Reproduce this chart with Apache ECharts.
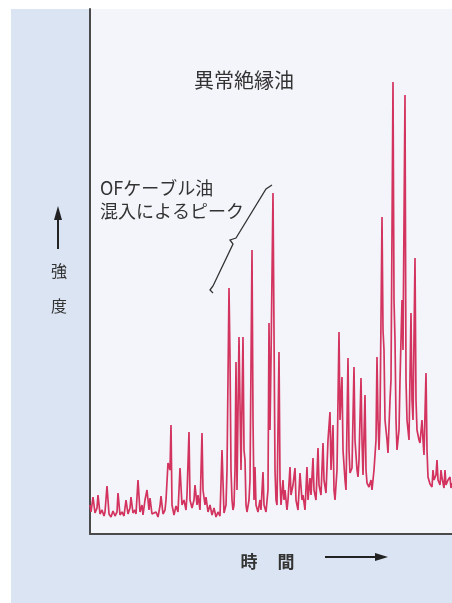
<!DOCTYPE html>
<html>
<head>
<meta charset="utf-8">
<script src="https://cdn.jsdelivr.net/npm/echarts@6/dist/echarts.min.js"></script>
<style>
  html, body { margin: 0; padding: 0; background: #fff; }
  #chart { width: 452px; height: 603px; }
</style>
</head>
<body>
<div id="chart"></div>
<script>
// retention time (arbitrary units) and detector intensity
const times = [
  0, 1, 3, 5, 7, 8, 10, 12, 14, 15, 17, 19, 21, 23, 25, 27, 28, 30, 32, 34,
  36, 38, 40, 41, 43, 45, 46, 48, 50, 52, 53, 55, 57, 59, 60, 62, 64, 66, 68, 70,
  71, 73, 75, 76, 78, 80, 81, 82, 84, 86, 88, 90, 92, 94, 96, 97, 99, 100, 102, 104,
  105, 107, 108, 110, 112, 113, 115, 116, 118, 120, 122, 124, 126, 128, 130, 132, 134, 136, 137, 139,
  140, 141, 142, 143, 144, 145, 146, 147, 149, 151, 153, 154, 155, 156, 157, 159, 160, 162, 163, 164,
  165, 166, 168, 170, 171, 173, 174, 176, 178, 179, 180, 181, 183, 185, 186, 187, 189, 190, 191, 193,
  194, 195, 197, 198, 200, 201, 203, 205, 206, 208, 210, 212, 213, 215, 217, 218, 220, 221, 223, 224,
  226, 228, 229, 231, 233, 234, 236, 238, 240, 241, 243, 244, 245, 247, 249, 250, 252, 253, 255, 256,
  258, 259, 260, 262, 264, 265, 267, 268, 269, 271, 272, 273, 275, 276, 277, 279, 281, 282, 284, 286,
  287, 288, 289, 290, 292, 293, 294, 295, 297, 298, 300, 301, 303, 304, 305, 306, 307, 309, 310, 312,
  313, 315, 316, 317, 319, 320, 321, 322, 323, 325, 326, 327, 329, 330, 332, 333, 334, 336, 337, 338,
  340, 342, 343, 344, 346, 347, 348, 350, 351, 352, 354, 355, 356, 358, 360, 361, 362
];
const intensity = [
  29, 22, 37, 21, 26, 39, 20, 24, 18, 22, 48, 20, 17, 23, 18, 22, 41, 19, 22, 18,
  34, 20, 26, 37, 21, 24, 20, 54, 22, 29, 19, 34, 44, 24, 36, 20, 18, 22, 17, 28,
  38, 20, 24, 34, 71, 64, 109, 29, 19, 28, 22, 66, 29, 34, 24, 39, 102, 34, 26, 34,
  49, 29, 39, 24, 101, 44, 29, 37, 22, 29, 19, 26, 17, 22, 18, 84, 21, 29, 64, 246,
  177, 64, 34, 24, 29, 64, 172, 44, 197, 64, 197, 84, 74, 29, 22, 34, 54, 284, 114, 34,
  67, 29, 22, 34, 24, 62, 29, 22, 44, 211, 104, 174, 341, 64, 34, 29, 182, 54, 29, 54,
  34, 44, 24, 34, 67, 39, 49, 66, 34, 24, 61, 34, 39, 24, 67, 34, 56, 39, 76, 44,
  34, 86, 49, 39, 91, 54, 41, 94, 122, 64, 109, 44, 34, 64, 202, 114, 157, 84, 54, 44,
  176, 84, 61, 66, 167, 94, 64, 57, 74, 156, 94, 59, 139, 64, 51, 47, 54, 44, 64, 94,
  177, 114, 84, 114, 317, 204, 184, 114, 94, 81, 134, 154, 452, 234, 194, 114, 84, 104, 154, 234,
  184, 439, 154, 114, 94, 94, 221, 134, 114, 276, 134, 104, 94, 91, 114, 94, 79, 161, 84, 57,
  50, 47, 64, 54, 59, 74, 54, 49, 64, 56, 46, 64, 49, 54, 57, 46, 51
];

const trace = times.map((t, i) => [t, intensity[i]]);

const chart = echarts.init(document.getElementById('chart'));
const FONT = '"Noto Sans CJK JP", sans-serif';
const INK = '#333';

chart.setOption({
  animation: false,
  backgroundColor: '#ffffff',
  grid: { left: 90, right: 0, top: 9, bottom: 69 },
  xAxis: {
    type: 'value', min: 0, max: 362,
    axisLine: { show: true, onZero: false, lineStyle: { color: '#4a4a4a', width: 2 } },
    axisTick: { show: false }, axisLabel: { show: false }, splitLine: { show: false }
  },
  yAxis: {
    type: 'value', min: 0, max: 525,
    axisLine: { show: true, lineStyle: { color: '#4a4a4a', width: 2 } },
    axisTick: { show: false }, axisLabel: { show: false }, splitLine: { show: false }
  },
  series: [{
    type: 'line',
    data: trace,
    showSymbol: false,
    lineStyle: { color: '#d3345f', width: 1.7 },
    z: 3
  }],
  graphic: [
    // page panels
    { type: 'rect', z: -2, shape: { x: 11, y: 9, width: 441, height: 594 }, style: { fill: '#dae4f2' } },
    { type: 'rect', z: -1, shape: { x: 90, y: 9, width: 362, height: 525 }, style: { fill: '#f3f5fa' } },
    // title inside the plot
    { type: 'text', z: 5, style: { text: '異常絶縁油', x: 244, y: 80, font: '20px ' + FONT, fill: INK, textAlign: 'center', textVerticalAlign: 'middle' } },
    // annotation
    { type: 'text', z: 5, style: { text: 'OFケーブル油', x: 100, y: 188, font: '18px ' + FONT, fill: INK, textAlign: 'left', textVerticalAlign: 'middle' } },
    { type: 'text', z: 5, style: { text: '混入によるピーク', x: 100, y: 211, font: '18px ' + FONT, fill: INK, textAlign: 'left', textVerticalAlign: 'middle' } },
    { type: 'polyline', z: 5, shape: { points: [[213, 293], [210, 290], [213, 286], [233, 244], [230, 240], [236, 238], [266, 189], [272, 185]] },
      style: { stroke: '#333', lineWidth: 1.3, fill: null } },
    // y label + arrow
    { type: 'line', z: 5, shape: { x1: 58, y1: 249, x2: 58, y2: 216 }, style: { stroke: '#222', lineWidth: 2 } },
    { type: 'polygon', z: 5, shape: { points: [[58, 206], [54, 220], [62, 220]] }, style: { fill: '#222' } },
    { type: 'text', z: 5, style: { text: '強', x: 59, y: 271, font: '16px ' + FONT, fill: INK, textAlign: 'center', textVerticalAlign: 'middle' } },
    { type: 'text', z: 5, style: { text: '度', x: 59, y: 306, font: '16px ' + FONT, fill: INK, textAlign: 'center', textVerticalAlign: 'middle' } },
    // x label + arrow
    { type: 'text', z: 5, style: { text: '時', x: 249, y: 562, font: 'bold 17px ' + FONT, fill: INK, textAlign: 'center', textVerticalAlign: 'middle' } },
    { type: 'text', z: 5, style: { text: '間', x: 286, y: 562, font: 'bold 17px ' + FONT, fill: INK, textAlign: 'center', textVerticalAlign: 'middle' } },
    { type: 'line', z: 5, shape: { x1: 325, y1: 557, x2: 378, y2: 557 }, style: { stroke: '#222', lineWidth: 2 } },
    { type: 'polygon', z: 5, shape: { points: [[388, 557], [375, 553], [375, 561]] }, style: { fill: '#222' } }
  ]
});
</script>
</body>
</html>
